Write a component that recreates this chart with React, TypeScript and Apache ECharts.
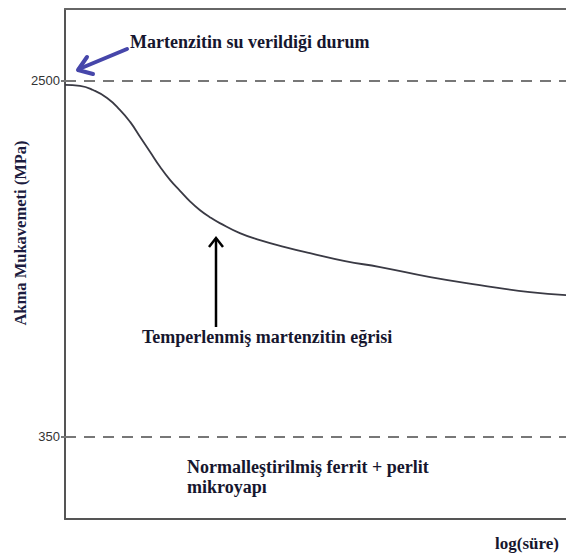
import React, { useEffect, useRef } from "react";
import * as echarts from "echarts";

// log(time) in arbitrary units (0..100) and yield strength (MPa)
const logTime = [0, 3.0, 5.6, 8.4, 11.0, 13.0, 15.0, 17.0, 19.0, 21.0, 23.0, 24.9, 26.9, 28.9, 30.9, 34.9, 38.9, 43.9, 48.9, 55.9, 62.9, 72.9, 82.8, 92.8, 100];
const strength = [2476, 2470, 2445, 2397, 2324, 2252, 2161, 2070, 1979, 1900, 1834, 1773, 1719, 1676, 1640, 1579, 1537, 1495, 1458, 1410, 1374, 1313, 1265, 1222, 1204];
const refLevels = [2500, 350];
const yTickLabels = [350, 2500];

const yName = "Akma Mukavemeti (MPa)";
const xName = "log(süre)";
const noteQuenched = "Martenzitin su verildiği durum";
const noteTempered = "Temperlenmiş martenzitin eğrisi";
const noteNormalized = "Normalleştirilmiş ferrit + perlit\nmikroyapı";

const SERIF = '"Liberation Serif", "Times New Roman", serif';
const TEXT_COLOR = "#16162e";

export default function App() {
  const ref = useRef<HTMLDivElement>(null);

  useEffect(() => {
    if (!ref.current) return;
    const chart = echarts.init(ref.current, null, { renderer: "svg" });
    const data = logTime.map((x, i) => [x, strength[i]]);

    const annText = (text: string, x: number, y: number, extra: any = {}) => ({
      type: "text",
      x,
      y,
      silent: true,
      style: {
        text,
        fontFamily: SERIF,
        fontWeight: "bold",
        fontSize: 18,
        fill: TEXT_COLOR,
        textAlign: "left",
        textVerticalAlign: "middle",
        ...extra,
      },
    });

    chart.setOption({
      animation: false,
      backgroundColor: "#ffffff",
      grid: { left: 65, top: 9, right: 0, bottom: 34 },
      xAxis: [
        {
          type: "value",
          min: 0,
          max: 100,
          position: "bottom",
          axisLine: { show: true, onZero: false, lineStyle: { color: "#555", width: 2 } },
          axisTick: { show: false },
          axisLabel: { show: false },
          splitLine: { show: false },
        },
        {
          type: "value",
          min: 0,
          max: 100,
          position: "top",
          axisLine: { show: true, onZero: false, lineStyle: { color: "#666", width: 2 } },
          axisTick: { show: false },
          axisLabel: { show: false },
          splitLine: { show: false },
        },
      ],
      yAxis: {
        type: "value",
        min: -150,
        max: 2935,
        axisLine: { show: true, onZero: false, lineStyle: { color: "#555", width: 2 } },
        axisTick: {
          show: true,
          customValues: yTickLabels,
          length: 4,
          lineStyle: { color: "#777", width: 2 },
        },
        axisLabel: {
          show: true,
          customValues: yTickLabels,
          formatter: (v: number) => String(v),
          fontFamily: '"Liberation Sans", Arial, sans-serif',
          fontSize: 13,
          color: "#333",
          margin: 5,
        },
        splitLine: { show: false },
      },
      series: [
        {
          type: "line",
          data,
          smooth: 0.5,
          showSymbol: false,
          lineStyle: { color: "#3a3a44", width: 1.8 },
          markLine: {
            silent: true,
            symbol: ["none", "none"],
            label: { show: false },
            lineStyle: { color: "#777", width: 2, type: [11, 8] },
            data: refLevels.map((v) => ({ yAxis: v })),
          },
        },
      ],
      graphic: [
        annText(noteQuenched, 130, 42),
        annText(noteTempered, 142, 337),
        annText(noteNormalized, 187, 477, { lineHeight: 20 }),
        annText(xName, 495, 543, { fontSize: 17 }),
        {
          type: "text",
          x: 20,
          y: 233,
          rotation: Math.PI / 2,
          silent: true,
          style: {
            text: yName,
            fontFamily: SERIF,
            fontWeight: "bold",
            fontSize: 16.5,
            fill: "#1c1c40",
            textAlign: "center",
            textVerticalAlign: "middle",
          },
        },
        // blue arrow to the as-quenched point
        {
          type: "polyline",
          silent: true,
          shape: { points: [[127, 49], [79, 69]] },
          style: { stroke: "#4646aa", lineWidth: 4, lineCap: "round", fill: "none" },
        },
        {
          type: "polyline",
          silent: true,
          shape: { points: [[87, 57], [78, 70], [93, 74]] },
          style: { stroke: "#4646aa", lineWidth: 4, lineCap: "round", lineJoin: "round", fill: "none" },
        },
        // black arrow to the tempered curve
        {
          type: "line",
          silent: true,
          shape: { x1: 216, y1: 327, x2: 216, y2: 239 },
          style: { stroke: "#000", lineWidth: 2.5 },
        },
        {
          type: "polyline",
          silent: true,
          shape: { points: [[209, 247], [216, 238], [223, 247]] },
          style: { stroke: "#000", lineWidth: 2.5, lineJoin: "miter", fill: "none" },
        },
      ],
    });

    return () => chart.dispose();
  }, []);

  return (
    <div
      ref={ref}
      style={{ position: "fixed", left: 0, top: 0, width: 566, height: 553, background: "#fff" }}
    />
  );
}
